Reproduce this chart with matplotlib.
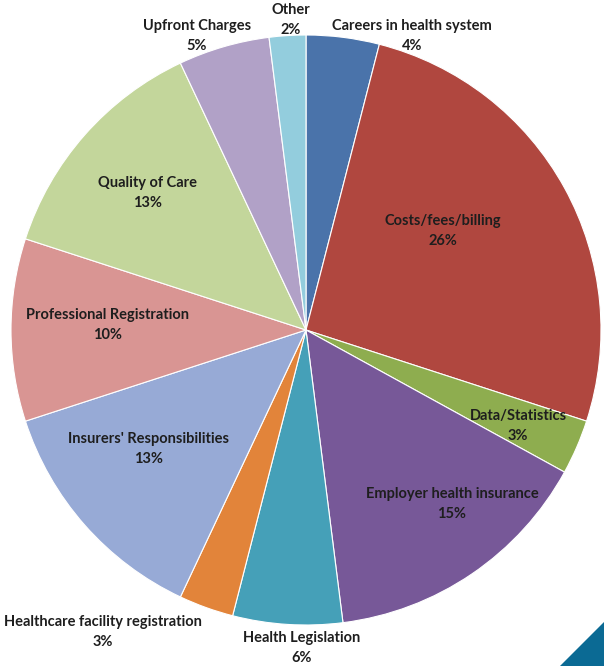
import matplotlib.pyplot as plt
from matplotlib.patches import Polygon

plt.rcParams['font.family'] = ['Lato', 'DejaVu Sans']

# Enquiry topics, clockwise from 12 o'clock
topics = ['Careers in health system', 'Costs/fees/billing', 'Data/Statistics',
          'Employer health insurance', 'Health Legislation',
          'Healthcare facility registration', "Insurers' Responsibilities",
          'Professional Registration', 'Quality of Care', 'Upfront Charges', 'Other']
shares = [4, 26, 3, 15, 6, 3, 13, 10, 13, 5, 2]
colors = ['#4a73aa', '#b0473f', '#8ead4f', '#775898', '#45a0b8', '#e2843a',
          '#97aad6', '#d99593', '#c3d69b', '#b1a1c7', '#93cddd']

# label centres in pixel coords (x, y from top)
label_xy = [(412, 36), (443, 231), (518, 426), (452, 504), (302, 648),
            (103, 632), (149, 449), (108, 325), (148, 193), (197, 36), (291, 20)]

W, H = 604, 666
fig = plt.figure(figsize=(W / 100, H / 100), dpi=100)
ax = fig.add_axes([0, 0, 1, 1])

ax.pie(shares, colors=colors, startangle=90, counterclock=False,
       center=(306, H - 330), radius=295,
       wedgeprops=dict(edgecolor='white', linewidth=0.8))

# pie() resets the limits, so set them afterwards
ax.set_xlim(0, W)
ax.set_ylim(0, H)
ax.set_aspect('equal')
ax.axis('off')

for name, v, (x, y) in zip(topics, shares, label_xy):
    ax.text(x, H - y, f'{name}\n{v}%', ha='center', va='center',
            fontsize=10.5, fontweight='bold', color='#1e1e1e', linespacing=1.5)

# slide corner decoration
ax.add_patch(Polygon([(560, 0), (604, 0), (604, 44)], closed=True,
                     facecolor='#0b6a94', edgecolor='none', clip_on=False))

fig.savefig('out.png', dpi=100)
plt.close(fig)
